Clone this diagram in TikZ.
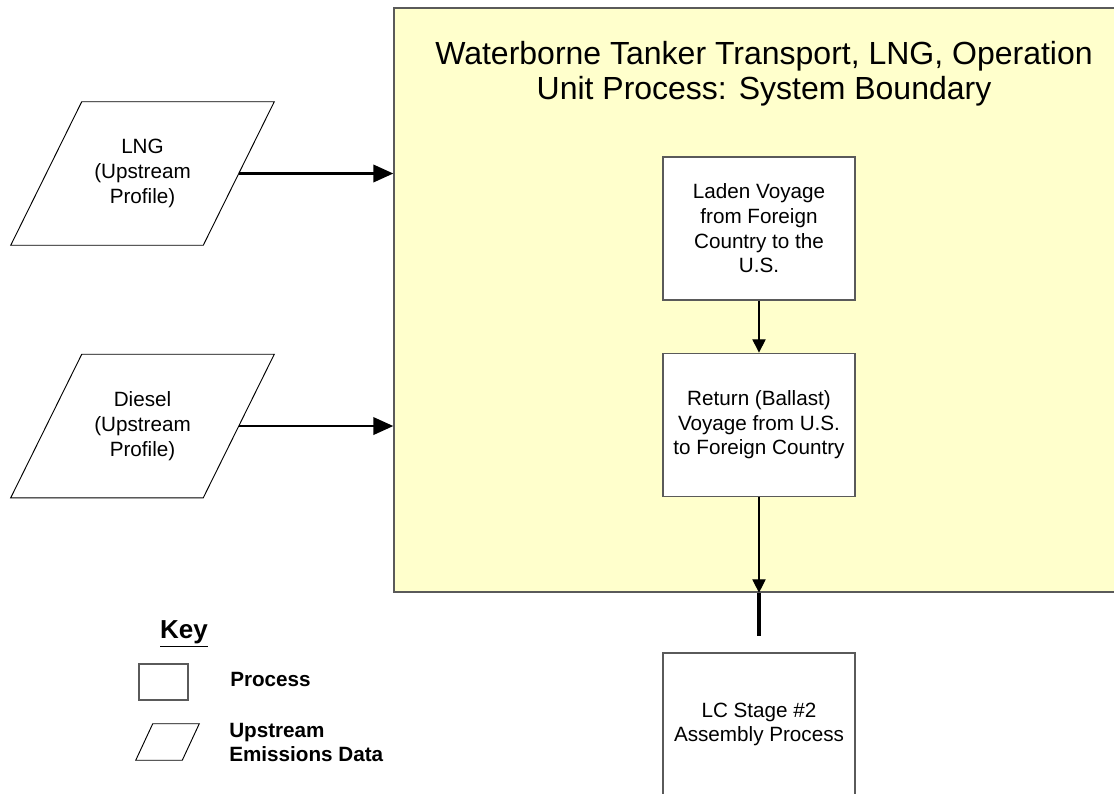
\documentclass[tikz,border=0pt]{standalone}
\usepackage{fontspec}
\setmainfont{Liberation Sans}
\usepackage{tikz}
\usepackage{xcolor}
\definecolor{PaleYellow}{HTML}{FFFFCC}
\definecolor{EdgeGray}{HTML}{5A5A5A}
\usetikzlibrary{shapes.geometric, arrows.meta, positioning, calc}
\tikzset{
  boxtext/.style={font=\fontsize{15.5}{18.5}\selectfont, align=center, inner sep=0pt},
  process/.style={rectangle, draw=EdgeGray, fill=white, line width=0.9pt, minimum width=144pt, minimum height=107.25pt, boxtext},
  upstream/.style={rectangle, minimum width=144pt, minimum height=107.25pt, boxtext},
  upline/.style={draw=black, line width=0.7pt, line join=miter},
  keytext/.style={font=\bfseries\fontsize{15.5}{18}\selectfont, align=left, anchor=west, inner sep=0pt},
  feed/.style={-{Triangle[length=15pt,width=13pt]}, line width=2pt},
  flow/.style={-{Triangle[length=10pt,width=10pt]}, line width=0.8pt}
}
% slanted frame round a node: #1 node, #2 half of the slant
\newcommand{\slantframe}[2]{%
  \draw[upline] ($(#1.south west)+(-#2,0)$) -- ($(#1.south east)+(-#2,0)$)
    -- ($(#1.north east)+(#2,0)$) -- ($(#1.north west)+(#2,0)$) -- cycle;}

\begin{document}
\begin{tikzpicture}[x=0.75pt, y=-0.75pt, node distance=39pt]
        \useasboundingbox (0,0) rectangle (1114,793);
        \clip (0,0) rectangle (1114,793);

        % system boundary
        \node (sys) [rectangle, draw=EdgeGray, fill=PaleYellow, line width=1pt, minimum width=544.5pt, minimum height=438pt] at (757,300) {};
        \node (title) [align=center, font=\fontsize{24}{26.5}\selectfont] at (764,74) {Waterborne Tanker Transport, LNG, Operation\\Unit Process: System Boundary};

        \node (laden) [process] at (759,228.5) {Laden Voyage\\from Foreign\\Country to the\\U.S.};
        \node (ret) [process, below=of laden] {Return (Ballast)\\Voyage from U.S.\\to Foreign Country};
        \node (stage) [process] at (759,724.5) {LC Stage \#2\\Assembly Process};

        \node (lng) [upstream] at (142.5,173.5) {LNG\\(Upstream\\Profile)};
        \node (diesel) [upstream, below=81.75pt of lng] {Diesel\\(Upstream\\Profile)};
        \slantframe{lng}{35.5}
        \slantframe{diesel}{35.5}

        \draw[feed] (lng.east) -- (lng.east -| sys.west);
        \draw[feed] (diesel.east) -- (diesel.east -| sys.west);
        \draw[flow] (laden) -- (ret);
        \draw[flow] (ret) -- (ret |- sys.south);
        \coordinate (stub) at (759,636);
        \draw[line width=2.3pt] (ret |- sys.south) -- (stub);

        % key
        \node (key) [font=\bfseries\fontsize{19.5}{22}\selectfont, inner sep=0pt] at (184,634) {\underline{Key}};
        \node (keyproc) [rectangle, draw=EdgeGray, line width=0.8pt, minimum width=36.75pt, minimum height=27pt] at (163.5,682) {};
        \node (keyproctext) [keytext] at (230,679) {Process};
        \node (keyup) [rectangle, minimum width=34.5pt, minimum height=27pt] at (167.5,742) {};
        \slantframe{keyup}{8.5}
        \node (keyuptext) [keytext] at (229,742) {Upstream\\Emissions Data};
    \end{tikzpicture}
\end{document}
